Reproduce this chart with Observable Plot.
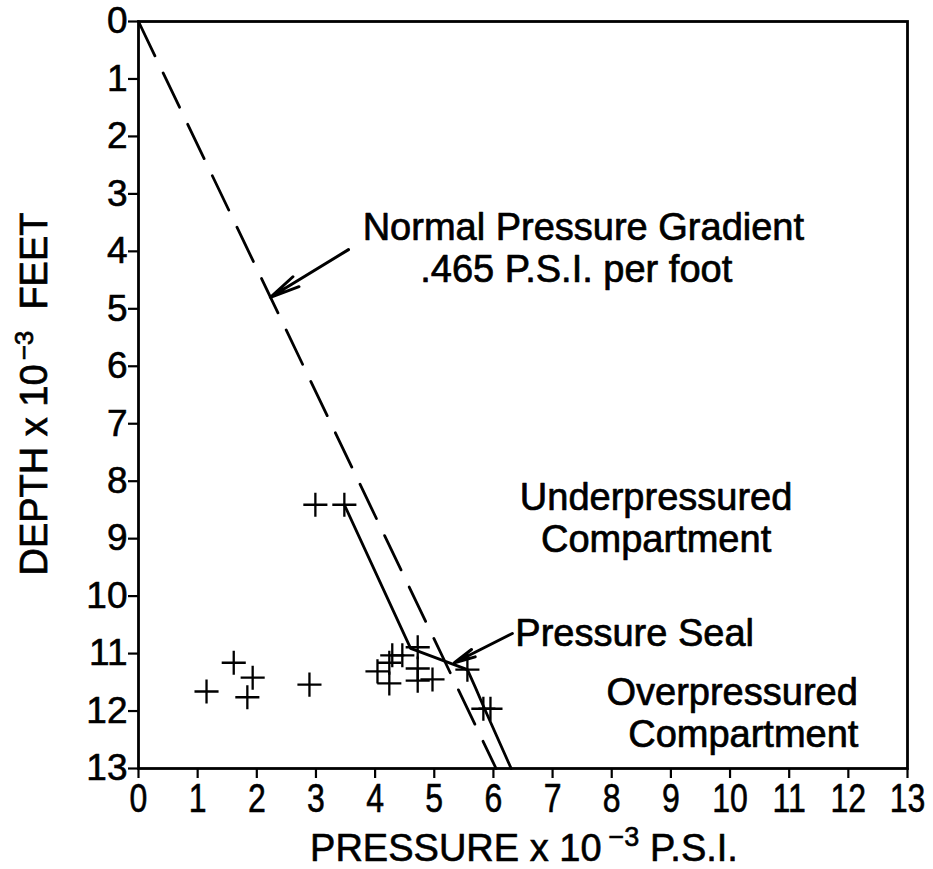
<!DOCTYPE html>
<html>
<head>
<meta charset="utf-8">
<script src="https://cdn.jsdelivr.net/npm/d3@7"></script>
<script src="https://cdn.jsdelivr.net/npm/@observablehq/plot@0.6"></script>
<style>
  body { margin: 0; background: #fff; }
  #chart svg { display: block; }
</style>
</head>
<body>
<div id="chart"></div>
<script>
// ---- tick labels ----
const xTicks = [0, 1, 2, 3, 4, 5, 6, 7, 8, 9, 10, 11, 12, 13];
const yTicks = [0, 1, 2, 3, 4, 5, 6, 7, 8, 9, 10, 11, 12, 13];

// ---- measured pressures (x 10^-3 psi) and depths (x 10^-3 ft) ----
const measPressure = [2.99, 3.48, 1.61, 1.93, 1.15, 1.84, 2.89, 4.04, 4.24, 4.24, 4.29, 4.46, 4.72, 4.72, 4.72, 4.97, 5.56, 5.83, 5.95];
const measDepth    = [8.41, 8.41, 11.16, 11.42, 11.66, 11.76, 11.54, 11.31, 11.16, 11.52, 11.03, 11.03, 10.89, 11.26, 11.47, 11.45, 11.28, 11.96, 11.96];

// ---- normal pressure gradient (.465 psi/ft) ----
const normalPressure = [0, 6.045];
const normalDepth    = [0, 13];

// ---- observed pressure profile ----
const profilePressure = [3.48, 4.60, 5.56, 5.70, 5.85, 6.30];
const profileDepth    = [8.41, 10.91, 11.28, 11.60, 11.96, 13];

// ---- annotations ----
const noteText   = ["Normal Pressure Gradient", ".465 P.S.I. per foot", "Underpressured", "Compartment", "Pressure Seal", "Overpressured", "Compartment"];
const noteX      = [7.52, 7.40, 8.75, 8.75, 6.37, 12.16, 12.17];
const noteY      = [3.81, 4.54, 8.51, 9.24, 10.86, 11.90, 12.63];
const noteAnchor = ["middle", "middle", "middle", "middle", "start", "end", "end"];

// ---- arrows (tail -> head) ----
const arrowX1 = [3.55, 6.32];
const arrowY1 = [3.97, 10.65];
const arrowX2 = [2.23, 5.34];
const arrowY2 = [4.80, 11.16];

const meas = measPressure.map((p, i) => ({p, d: measDepth[i]}));
const normal = normalPressure.map((p, i) => ({p, d: normalDepth[i]}));
const profile = profilePressure.map((p, i) => ({p, d: profileDepth[i]}));
const notes = noteText.map((t, i) => ({t, x: noteX[i], y: noteY[i], a: noteAnchor[i]}));
const arrows = arrowX1.map((x1, i) => ({x1, y1: arrowY1[i], x2: arrowX2[i], y2: arrowY2[i]}));

const FONT = "'Liberation Sans', Arial, Helvetica, sans-serif";
const textStyle = {fontSize: 38, fill: "#000", stroke: "#000", strokeWidth: 0.7};

const chart = Plot.plot({
  width: 933,
  height: 869,
  marginLeft: 138,
  marginRight: 26,
  marginTop: 21,
  marginBottom: 101,
  style: {background: "#fff", color: "#000", fontFamily: FONT},
  x: {domain: [0, 13]},
  y: {domain: [0, 13], reverse: true},
  marks: [
    Plot.frame({stroke: "#000", strokeWidth: 2.8}),
    Plot.axisY({ticks: yTicks, tickFormat: d => String(d), tickSize: 10, tickPadding: 1, fontSize: 37, strokeWidth: 2.2, label: null}),
    Plot.axisX({ticks: xTicks, tickFormat: d => String(d), tickSize: 10, tickPadding: 5, fontSize: 40, strokeWidth: 2.2, label: null}),
    Plot.line(normal, {x: "p", y: "d", stroke: "#000", strokeWidth: 2.8, strokeDasharray: "38,19"}),
    Plot.line(profile, {x: "p", y: "d", stroke: "#000", strokeWidth: 2.8}),
    Plot.dot(meas, {x: "p", y: "d", symbol: "plus", r: 7.8, stroke: "#000", strokeWidth: 2.3}),
    Plot.arrow(arrows, {x1: "x1", y1: "y1", x2: "x2", y2: "y2", stroke: "#000", strokeWidth: 3, headLength: 22, headAngle: 22}),
    Plot.text(notes.filter(d => d.a === "middle"), {x: "x", y: "y", text: "t", textAnchor: "middle", lineAnchor: "bottom", ...textStyle}),
    Plot.text(notes.filter(d => d.a === "start"), {x: "x", y: "y", text: "t", textAnchor: "start", lineAnchor: "bottom", ...textStyle}),
    Plot.text(notes.filter(d => d.a === "end"), {x: "x", y: "y", text: "t", textAnchor: "end", lineAnchor: "bottom", ...textStyle})
  ]
});

document.getElementById("chart").appendChild(chart);

const svg = d3.select(chart);

// condensed look of the x tick labels
svg.selectAll('g[aria-label="x-axis tick label"] text').each(function() {
  const t = this.getAttribute("transform") || "";
  this.setAttribute("transform", t + " scale(0.8,1)");
});
svg.selectAll('g[aria-label="x-axis tick label"], g[aria-label="y-axis tick label"]')
  .attr("stroke", "#000").attr("stroke-width", 0.6);

// ---- axis titles with superscript exponents ----
const yTitle = svg.append("text")
  .attr("transform", "translate(47,394) rotate(-90)")
  .attr("text-anchor", "middle")
  .attr("stroke", "#000").attr("stroke-width", 0.7)
  .style("font-family", FONT).style("font-size", "38px").attr("fill", "#000");
yTitle.append("tspan").text("DEPTH x 10");
yTitle.append("tspan").attr("dx", 4).attr("dy", -14).style("font-size", "26px").text("\u22123");
yTitle.append("tspan").attr("dy", 14).text("  FEET");

const xTitle = svg.append("text")
  .attr("x", 524).attr("y", 861)
  .attr("text-anchor", "middle")
  .attr("stroke", "#000").attr("stroke-width", 0.6)
  .style("font-family", FONT).style("font-size", "38px").attr("fill", "#000");
xTitle.append("tspan").text("PRESSURE x 10");
xTitle.append("tspan").attr("dx", 7).attr("dy", -15).style("font-size", "27px").text("\u22123");
xTitle.append("tspan").attr("dy", 15).text(" P.S.I.");
</script>
</body>
</html>
